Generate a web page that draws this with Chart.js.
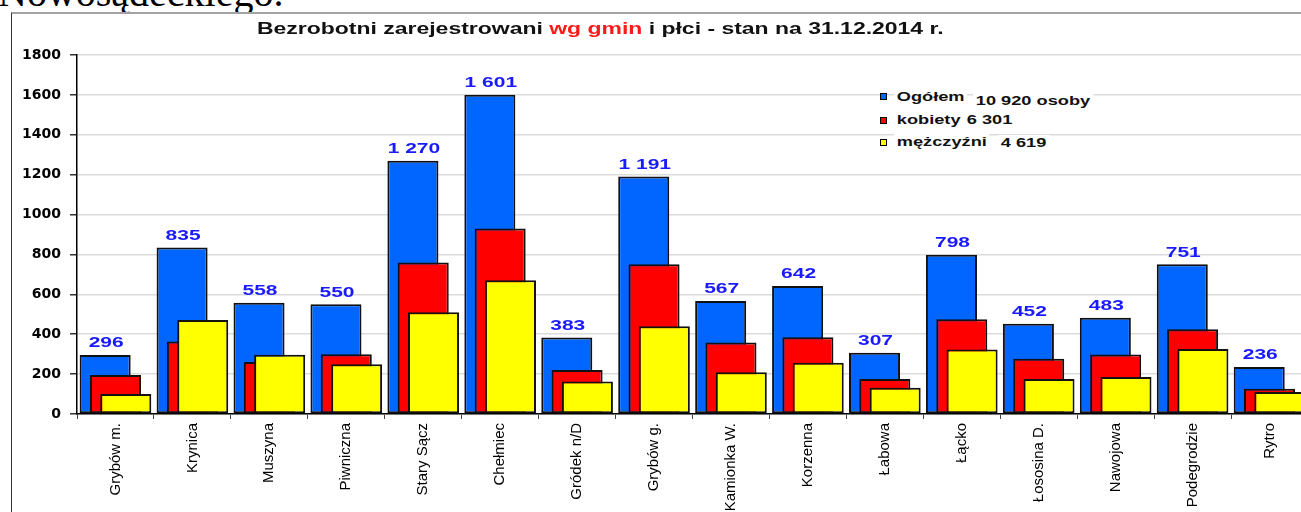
<!DOCTYPE html>
<html lang="pl">
<head>
<meta charset="utf-8">
<script src="https://cdn.jsdelivr.net/npm/chart.js@4.4.1/dist/chart.umd.min.js"></script>
<style>
  body { margin: 0; overflow: hidden; background: #fff; width: 1301px; height: 512px; position: relative; }
  #naglowek { position: absolute; left: -2px; top: -27px; font: 40px/1 "Liberation Serif", "Times New Roman", serif; color: #000; white-space: nowrap; }
  #ramka { position: absolute; left: 11px; top: 12px; width: 1400px; height: 600px; border-top: 2px solid #a3a3a3; border-left: 1px solid #333; background: #fff; }
  #wykres { position: absolute; left: 0; top: 0; }
  #tytul { position: absolute; left: 257px; top: 21px; font: bold 16px/1 "Liberation Sans", Arial, sans-serif; color: #111; white-space: nowrap; transform-origin: 0 0; }
  #tytul .czerwony { color: #ff1a1a; }
  .leg { position: absolute; font: bold 13px/1 "Liberation Sans", Arial, sans-serif; color: #111; white-space: nowrap; background: #fff; padding: 1px 2px; margin-left: -2px; transform: scaleX(1.4); transform-origin: 0 0; }
  .kw { position: absolute; width: 5px; height: 5px; border: 1px solid #000; }
</style>
</head>
<body>
<div id="naglowek">Nowosądeckiego.</div>
<div id="ramka"></div>
<canvas id="wykres" width="1320" height="512"></canvas>
<div id="tytul">Bezrobotni zarejestrowani <span class="czerwony">wg gmin</span> i płci - stan na 31.12.2014 r.</div>

<div class="kw" style="left:880px;top:93px;background:#0066ff"></div>
<div class="leg" style="left:896px;top:89px">Ogółem</div>
<div class="leg" style="left:975px;top:93px">10 920 osoby</div>
<div class="kw" style="left:880px;top:117px;background:#ff0000"></div>
<div class="leg" style="left:896px;top:112px">kobiety</div>
<div class="leg" style="left:966px;top:112px">6 301</div>
<div class="kw" style="left:880px;top:139px;background:#ffff00"></div>
<div class="leg" style="left:896px;top:134px">mężczyźni</div>
<div class="leg" style="left:1000px;top:135px">4 619</div>

<script>
// dane: bezrobotni wg gmin, stan na 31.12.2014
const gminy = ["Grybów m.", "Krynica", "Muszyna", "Piwniczna", "Stary Sącz", "Chełmiec", "Gródek n/D", "Grybów g.",
    "Kamionka W.", "Korzenna", "Łabowa", "Łącko", "Łososina D.", "Nawojowa", "Podegrodzie", "Rytro"];
const ogolem = [296, 835, 558, 550, 1270, 1601, 383, 1191, 567, 642, 307, 798, 452, 483, 751, 236];
const kobiety = [196, 364, 261, 300, 760, 930, 220, 751, 358, 385, 175, 475, 277, 298, 425, 126];
const mezczyzni = [100, 471, 297, 250, 510, 671, 163, 440, 209, 257, 132, 323, 175, 185, 326, 110];
const osY = [0, 200, 400, 600, 800, 1000, 1200, 1400, 1600, 1800];

// tytul rozciagniety jak w oryginale
const tytul = document.getElementById("tytul");
tytul.style.transform = "scaleX(" + (686 / tytul.offsetWidth) + ")";

function formatuj(v) {
    return String(v).replace(/\B(?=(\d{3})+(?!\d))/g, " ");
}

// slupki rysowane od pierwszego (niebieski z tylu) do ostatniego (zolty z przodu)
const kolejnosc = {
    id: "kolejnosc",
    beforeDatasetsDraw(chart) {
        chart.getSortedVisibleDatasetMetas().forEach(meta => meta.controller.draw());
        return false;
    }
};

// etykiety wartosci nad niebieskimi slupkami
const etykiety = {
    id: "etykiety",
    afterDraw(chart) {
        const ctx = chart.ctx;
        const meta = chart.getDatasetMeta(0);
        ctx.save();
        ctx.font = 'bold 15px "Liberation Sans", Arial, sans-serif';
        ctx.fillStyle = "#1a1aff";
        ctx.textAlign = "center";
        ctx.textBaseline = "alphabetic";
        meta.data.forEach((bar, i) => {
            ctx.save();
            ctx.translate(bar.x + 1, bar.y - 7.5);
            ctx.scale(1.4, 1);
            ctx.fillText(formatuj(ogolem[i]), 0, 0);
            ctx.restore();
        });
        ctx.restore();
    }
};

const wspolne = {
    borderColor: "#111",
    borderWidth: 2,
    borderSkipped: false,
    categoryPercentage: 0.402,
    barPercentage: 4.95
};

new Chart(document.getElementById("wykres"), {
    type: "bar",
    data: {
        labels: gminy,
        datasets: [
            { label: "Ogółem", data: ogolem, backgroundColor: "#0066ff", ...wspolne },
            { label: "kobiety", data: kobiety, backgroundColor: "#ff0000", ...wspolne },
            { label: "mężczyźni", data: mezczyzni, backgroundColor: "#ffff00", ...wspolne }
        ]
    },
    options: {
        responsive: false,
        animation: false,
        layout: { padding: { top: 55, right: 12, left: 0, bottom: 0 } },
        plugins: {
            legend: { display: false },
            title: { display: false },
            tooltip: { enabled: false }
        },
        scales: {
            x: {
                offset: true,
                afterFit(scale) { scale.height = 98; },
                grid: { drawOnChartArea: false, offset: true, tickLength: 5, color: "#444" },
                border: { color: "#000", width: 1.5 },
                ticks: {
                    autoSkip: false,
                    maxRotation: 90,
                    minRotation: 90,
                    padding: 4,
                    color: "#000",
                    font: { family: "'Liberation Sans', Arial, sans-serif", size: 15 }
                }
            },
            y: {
                min: osY[0],
                max: osY[osY.length - 1],
                afterFit(scale) { scale.width = 77; },
                afterBuildTicks(scale) { scale.ticks = osY.map(v => ({ value: v })); },
                grid: { color: "#dcdcdc", lineWidth: 1.5, tickLength: 7, tickColor: "#333" },
                border: { color: "#000", width: 1.5 },
                ticks: {
                    padding: 9,
                    color: "#000",
                    callback: v => String(v),
                    font: { family: "'DejaVu Sans', sans-serif", size: 14, weight: "bold" }
                }
            }
        }
    },
    plugins: [kolejnosc, etykiety]
});
</script>
</body>
</html>
